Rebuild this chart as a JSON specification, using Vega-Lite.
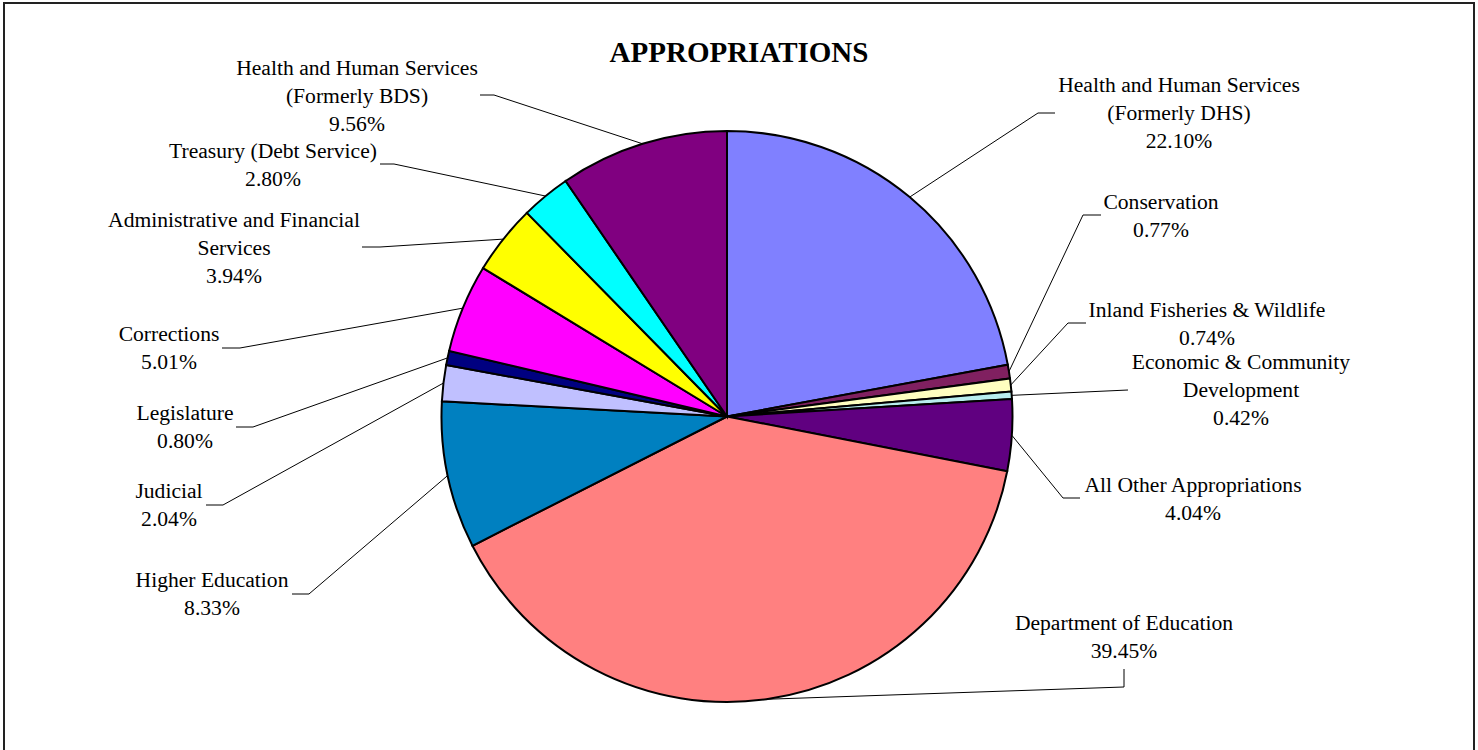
{
  "$schema": "https://vega.github.io/schema/vega-lite/v6.json",
  "width": 1470,
  "height": 747,
  "autosize": {"type": "none"},
  "padding": {"left": 4, "top": 3, "right": 4, "bottom": 0},
  "background": "white",
  "config": {"view": {"stroke": "#222222", "strokeWidth": 2, "strokeDash": [2217, 1470, 747]}},
  "title": {"text": "APPROPRIATIONS", "font": "Liberation Serif", "fontSize": 29, "fontWeight": "bold", "color": "black", "anchor": "middle", "baseline": "alphabetic", "offset": -60.5, "dy": 27.5},
  "data": {"values": [
    {"order": 1, "name": "Health and Human Services\n(Formerly DHS)", "pct": 22.10},
    {"order": 2, "name": "Conservation", "pct": 0.77},
    {"order": 3, "name": "Inland Fisheries & Wildlife", "pct": 0.74},
    {"order": 4, "name": "Economic & Community\nDevelopment", "pct": 0.42},
    {"order": 5, "name": "All Other Appropriations", "pct": 4.04},
    {"order": 6, "name": "Department of Education", "pct": 39.45},
    {"order": 7, "name": "Higher Education", "pct": 8.33},
    {"order": 8, "name": "Judicial", "pct": 2.04},
    {"order": 9, "name": "Legislature", "pct": 0.80},
    {"order": 10, "name": "Corrections", "pct": 5.01},
    {"order": 11, "name": "Administrative and Financial\nServices", "pct": 3.94},
    {"order": 12, "name": "Treasury (Debt Service)", "pct": 2.80},
    {"order": 13, "name": "Health and Human Services\n(Formerly BDS)", "pct": 9.56}
  ]},
  "transform": [
    {"window": [{"op": "sum", "field": "pct", "as": "cum"}], "sort": [{"field": "order", "order": "ascending"}], "frame": [null, 0]},
    {"calculate": "(datum.cum - datum.pct / 2) * PI / 50", "as": "mid"},
    {"calculate": "285.5 * sin(datum.mid)", "as": "px"},
    {"calculate": "285.5 * cos(datum.mid)", "as": "py"},
    {"calculate": "datum.name + '\\n' + format(datum.pct, '.2f') + '%'", "as": "label"},
    {"calculate": "[452, 434, 480, 514, 466, 397, -515, -558, -542, -558, -493, -454, -370][datum.order - 1]", "as": "lx"},
    {"calculate": "[324.5, 207.5, 99.5, 47.5, -75.5, -213.5, -170.5, -81.5, -3.5, 75.5, 189.5, 258.5, 341.5][datum.order - 1]", "as": "ly"},
    {"calculate": "[311, 356, 341, 401, 336, 397, -418, -504, -474, -487, -347, -333, -233][datum.order - 1]", "as": "ex"},
    {"calculate": "[303.5, 201.5, 93.5, 26.5, -81.5, -270.5, -177.5, -88.5, -10.5, 68.5, 169.5, 252.5, 321.5][datum.order - 1]", "as": "ey"},
    {"calculate": "[328, 374, 359, 401, 353, 397, -435, -521, -491, -505, -365, -347, -247][datum.order - 1]", "as": "tx"},
    {"calculate": "[303.5, 201.5, 93.5, 26.5, -81.5, -252.5, -177.5, -88.5, -10.5, 68.5, 169.5, 252.5, 321.5][datum.order - 1]", "as": "ty"}
  ],
  "layer": [
    {
      "mark": {"type": "arc", "outerRadius": 285.5, "stroke": "black", "strokeWidth": 2},
      "encoding": {
        "theta": {"field": "pct", "type": "quantitative", "stack": true},
        "order": {"field": "order", "type": "quantitative"},
        "color": {
          "field": "name", "type": "nominal", "legend": null,
          "scale": {
            "domain": ["Health and Human Services\n(Formerly DHS)", "Conservation", "Inland Fisheries & Wildlife", "Economic & Community\nDevelopment", "All Other Appropriations", "Department of Education", "Higher Education", "Judicial", "Legislature", "Corrections", "Administrative and Financial\nServices", "Treasury (Debt Service)", "Health and Human Services\n(Formerly BDS)"],
            "range": ["#8080FF", "#802060", "#FFFFC0", "#B8EEEE", "#600080", "#FF8080", "#0080C0", "#C0C0FF", "#000080", "#FF00FF", "#FFFF00", "#00FFFF", "#800080"]
          }
        },
        "x": {"datum": 0, "type": "quantitative", "scale": {"domain": [-723, 747], "nice": false, "zero": false}, "axis": null},
        "y": {"datum": 0, "type": "quantitative", "scale": {"domain": [-333.5, 413.5], "nice": false, "zero": false}, "axis": null}
      }
    },
    {
      "mark": {"type": "rule", "color": "black", "strokeWidth": 1},
      "encoding": {
        "x": {"field": "px", "type": "quantitative", "scale": {"domain": [-723, 747], "nice": false, "zero": false}, "axis": null},
        "y": {"field": "py", "type": "quantitative", "scale": {"domain": [-333.5, 413.5], "nice": false, "zero": false}, "axis": null},
        "x2": {"field": "ex"},
        "y2": {"field": "ey"}
      }
    },
    {
      "mark": {"type": "rule", "color": "black", "strokeWidth": 1},
      "encoding": {
        "x": {"field": "ex", "type": "quantitative", "scale": {"domain": [-723, 747], "nice": false, "zero": false}, "axis": null},
        "y": {"field": "ey", "type": "quantitative", "scale": {"domain": [-333.5, 413.5], "nice": false, "zero": false}, "axis": null},
        "x2": {"field": "tx"},
        "y2": {"field": "ty"}
      }
    },
    {
      "mark": {"type": "text", "font": "Liberation Serif", "fontSize": 21.6, "lineBreak": "\n", "lineHeight": 28, "align": "center", "baseline": "alphabetic", "color": "black"},
      "encoding": {
        "x": {"field": "lx", "type": "quantitative", "scale": {"domain": [-723, 747], "nice": false, "zero": false}, "axis": null},
        "y": {"field": "ly", "type": "quantitative", "scale": {"domain": [-333.5, 413.5], "nice": false, "zero": false}, "axis": null},
        "text": {"field": "label", "type": "nominal"}
      }
    }
  ]
}
